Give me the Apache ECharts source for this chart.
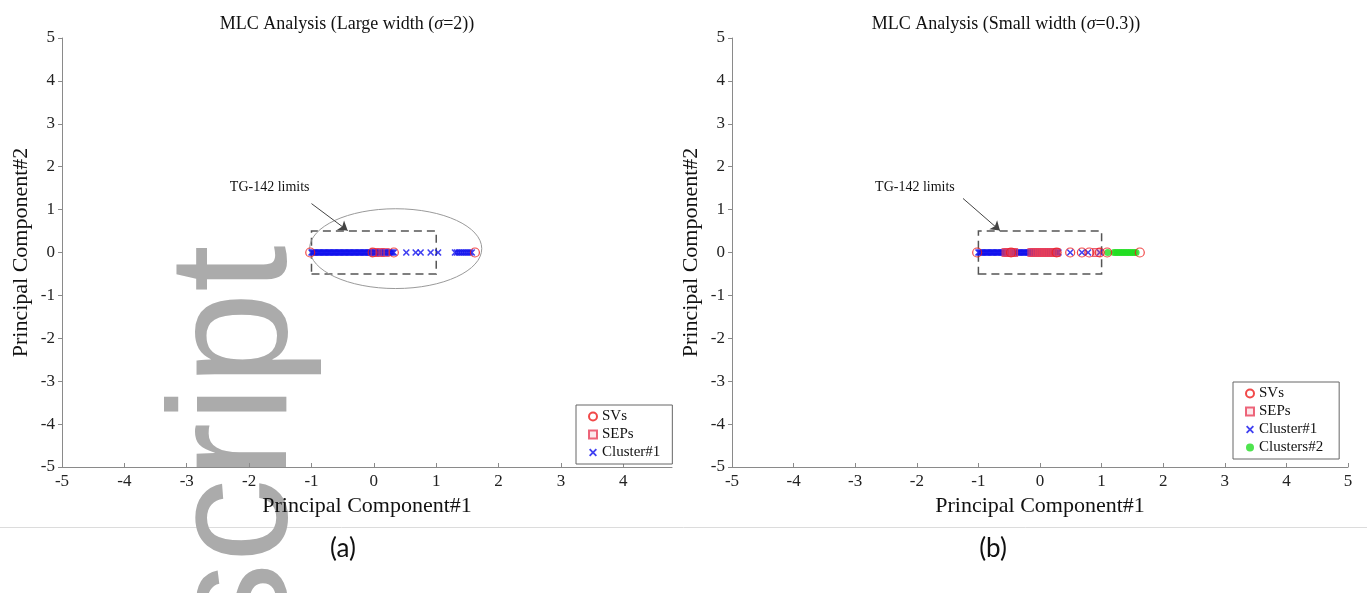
<!DOCTYPE html>
<html><head><meta charset="utf-8">
<script src="https://cdn.jsdelivr.net/npm/echarts@6/dist/echarts.min.js"></script>
<style>html,body{margin:0;padding:0;background:#fff}#c{width:1367px;height:593px}</style>
</head><body><div id="c"></div>
<script>
// ---- tick labels ----
const yTicks = [-5, -4, -3, -2, -1, 0, 1, 2, 3, 4, 5];
const xTicksA = [-5, -4, -3, -2, -1, 0, 1, 2, 3, 4];
const xTicksB = [-5, -4, -3, -2, -1, 0, 1, 2, 3, 4, 5];
const xRangeA = [-5, 4.78];
const xRangeB = [-5, 5];
const yRange = [-5, 5];

// ---- texts ----
const titleA = ['MLC Analysis (Large width (', 'σ', '=2))'];
const titleB = ['MLC Analysis (Small width (', 'σ', '=0.3))'];
const xName = 'Principal Component#1';
const yName = 'Principal Component#2';
const annotText = 'TG-142 limits';
const panelLabels = ['(a)', '(b)'];
const legendA = ['SVs', 'SEPs', 'Cluster#1'];
const legendB = ['SVs', 'SEPs', 'Cluster#1', 'Clusters#2'];

// ---- TG-142 limit box (PC1, PC2) ----
const limitPC1 = [-1, 1];
const limitPC2 = [-0.5, 0.5];

// ---- annotation positions (data units) ----
const annotPosA = [-1.67, 1.52];
const arrowA = [[-1.0, 1.14], [-0.42, 0.51]];
const annotPosB = [-2.03, 1.52];
const arrowB = [[-1.25, 1.26], [-0.65, 0.51]];

// ---- ellipse (a): center and radii ----
const ellipseCenterA = [0.35, 0.09];
const ellipseRadiiA = [1.38, 0.93];

// ---- panel (a) data: [PC1, PC2] ----
const aCluster1 = [[-1.00,0],[-0.98,0],[-0.96,0],[-0.94,0],[-0.92,0],[-0.90,0],[-0.88,0],[-0.86,0],[-0.84,0],[-0.82,0],
  [-0.80,0],[-0.78,0],[-0.76,0],[-0.74,0],[-0.72,0],[-0.70,0],[-0.68,0],[-0.66,0],[-0.64,0],[-0.62,0],
  [-0.60,0],[-0.58,0],[-0.56,0],[-0.54,0],[-0.52,0],[-0.50,0],[-0.48,0],[-0.46,0],[-0.44,0],[-0.42,0],
  [-0.40,0],[-0.38,0],[-0.36,0],[-0.34,0],[-0.32,0],[-0.30,0],[-0.28,0],[-0.26,0],[-0.24,0],[-0.22,0],
  [-0.20,0],[-0.18,0],[-0.16,0],[-0.14,0],[-0.12,0],[-0.10,0],[-0.08,0],[-0.06,0],[-0.04,0],[-0.02,0],
  [0.00,0],[0.02,0],[0.04,0],[0.06,0],[0.08,0],[0.10,0],[0.12,0],[0.14,0],[0.16,0],[0.18,0],
  [0.20,0],[0.22,0],[0.24,0],[0.26,0],[0.28,0],[0.30,0],[0.32,0],
  [0.52,0],[0.67,0],[0.75,0],[0.91,0],[1.03,0],
  [1.30,0],[1.33,0],[1.36,0],[1.39,0],[1.42,0],[1.45,0],[1.48,0],[1.51,0],[1.54,0],[1.57,0]];
const aSVs = [[-1.02,0],[-0.02,0],[0.32,0],[1.62,0]];
const aSEPs = [[0.02,0],[0.10,0],[0.18,0]];

// ---- panel (b) data: [PC1, PC2] ----
const bCluster1 = [[-1.00,0],[-0.98,0],[-0.96,0],[-0.94,0],[-0.92,0],[-0.90,0],[-0.88,0],[-0.86,0],[-0.84,0],[-0.82,0],
  [-0.80,0],[-0.78,0],[-0.76,0],[-0.74,0],[-0.72,0],[-0.70,0],[-0.68,0],[-0.66,0],[-0.64,0],[-0.62,0],
  [-0.60,0],[-0.58,0],[-0.56,0],[-0.54,0],[-0.52,0],[-0.50,0],[-0.48,0],[-0.46,0],[-0.44,0],[-0.42,0],
  [-0.40,0],[-0.38,0],[-0.36,0],[-0.34,0],[-0.32,0],[-0.30,0],[-0.28,0],[-0.26,0],[-0.24,0],[-0.22,0],
  [-0.20,0],[-0.18,0],[-0.16,0],[-0.14,0],[-0.12,0],[-0.10,0],[-0.08,0],[-0.06,0],[-0.04,0],[-0.02,0],
  [0.00,0],[0.02,0],[0.04,0],[0.06,0],[0.08,0],[0.10,0],[0.12,0],[0.14,0],[0.16,0],[0.18,0],
  [0.20,0],[0.22,0],[0.24,0],[0.26,0],[0.28,0],[0.30,0],
  [0.49,0],[0.68,0],[0.78,0],[0.97,0]];
const bSEPs = [[-0.55,0],[-0.52,0],[-0.49,0],[-0.46,0],[-0.43,0],[-0.13,0],[-0.10,0],[-0.07,0],[-0.04,0],[-0.01,0],
  [0.02,0],[0.05,0],[0.08,0],[0.11,0],[0.14,0],[0.17,0],[0.20,0],[0.23,0],[0.26,0],[0.92,0]];
const bSVs = [[-1.02,0],[-0.47,0],[0.27,0],[0.49,0],[0.68,0],[0.80,0],[0.97,0],[1.09,0],[1.62,0]];
const bClusters2 = [[1.10,0],[1.20,0],[1.23,0],[1.26,0],[1.29,0],[1.32,0],[1.35,0],[1.38,0],[1.41,0],[1.44,0],
  [1.47,0],[1.50,0],[1.53,0],[1.56,0]];

// ---- styles ----
const SERIF = '"Liberation Serif", "Times New Roman", serif';
const AXIS_COLOR = '#8a8a8a';
const XMARK = 'path://M0,1.6L1.6,0L5,3.4L8.4,0L10,1.6L6.6,5L10,8.4L8.4,10L5,6.6L1.6,10L0,8.4L3.4,5Z';

function xAxisCfg(gi, range, ticks) {
  return {
    type: 'value', gridIndex: gi, min: range[0], max: range[1], interval: 1,
    name: xName, nameLocation: 'middle', nameGap: 28,
    nameTextStyle: { fontFamily: SERIF, fontSize: 22, color: '#111' },
    axisLine: { show: true, onZero: false, lineStyle: { color: AXIS_COLOR, width: 1 } },
    axisTick: { show: true, inside: true, length: 4, customValues: ticks, lineStyle: { color: AXIS_COLOR } },
    axisLabel: { customValues: ticks, fontFamily: SERIF, fontSize: 17, color: '#222', margin: 6,
      formatter: v => (Number.isInteger(v) ? String(v) : '') },
    splitLine: { show: false }
  };
}
function yAxisCfg(gi) {
  return {
    type: 'value', gridIndex: gi, min: yRange[0], max: yRange[1], interval: 1,
    name: yName, nameLocation: 'middle', nameGap: 30, nameRotate: 90,
    nameTextStyle: { fontFamily: SERIF, fontSize: 22, color: '#111' },
    axisLine: { show: true, onZero: false, lineStyle: { color: AXIS_COLOR, width: 1 } },
    axisTick: { show: true, inside: false, length: 4, customValues: yTicks, lineStyle: { color: AXIS_COLOR } },
    axisLabel: { customValues: yTicks, fontFamily: SERIF, fontSize: 17, color: '#222', margin: 7 },
    splitLine: { show: false }
  };
}

function svSeries(idx, data) {
  return { name: 'SVs', type: 'scatter', xAxisIndex: idx, yAxisIndex: idx, data: data, z: 5,
    symbol: 'circle', symbolSize: 9,
    itemStyle: { color: 'rgba(255,255,255,0)', borderColor: '#ee1c1c', borderWidth: 1.2 } };
}
function sepSeries(idx, data, fill) {
  return { name: 'SEPs', type: 'scatter', xAxisIndex: idx, yAxisIndex: idx, data: data, z: 4,
    symbol: 'rect', symbolSize: 8,
    itemStyle: { color: fill, borderColor: '#e8405a', borderWidth: 1.2 } };
}
function cl1Series(idx, data) {
  return { name: 'Cluster#1', type: 'scatter', xAxisIndex: idx, yAxisIndex: idx, data: data, z: 3,
    symbol: XMARK, symbolSize: 7, itemStyle: { color: '#1010ee' } };
}
function limitsSeries(idx, annotPos, arrow) {
  return {
    name: 'limits' + idx, type: 'custom', xAxisIndex: idx, yAxisIndex: idx, z: 2, silent: true, clip: false,
    data: [annotPos],
    renderItem: function (params, api) {
      const p = api.coord([api.value(0), api.value(1)]);
      return { type: 'text', x: p[0], y: p[1],
        style: { text: annotText, fontFamily: 'Liberation Serif', fontSize: 14, fill: '#111', align: 'center', verticalAlign: 'middle' } };
    },
    markArea: { silent: true,
      itemStyle: { color: 'rgba(0,0,0,0)', borderColor: '#555', borderWidth: 1.5, borderType: [8, 5] },
      data: [[{ coord: [limitPC1[0], limitPC2[0]] }, { coord: [limitPC1[1], limitPC2[1]] }]] },
    markLine: { silent: true, symbol: ['none', 'arrow'], symbolSize: 9,
      lineStyle: { color: '#444', width: 1, type: 'solid' }, label: { show: false },
      data: [[{ coord: arrow[0], symbol: 'none' }, { coord: arrow[1], symbol: 'arrow', symbolSize: 9 }]] }
  };
}

const titleRich = {
  a: { fontFamily: SERIF, fontSize: 18, fontWeight: 'normal', color: '#111' },
  i: { fontFamily: SERIF, fontSize: 18, fontWeight: 'normal', fontStyle: 'italic', color: '#111' }
};

const chart = echarts.init(document.getElementById('c'), null, { renderer: 'canvas' });
const option = {
  animation: false,
  backgroundColor: '#ffffff',
  title: [
    { text: '{a|' + titleA[0] + '}{i|' + titleA[1] + '}{a|' + titleA[2] + '}', left: 342, top: 10, textAlign: 'center',
      textStyle: { fontWeight: 'normal', fontFamily: SERIF, fontSize: 18, rich: titleRich } },
    { text: '{a|' + titleB[0] + '}{i|' + titleB[1] + '}{a|' + titleB[2] + '}', left: 1001, top: 10, textAlign: 'center',
      textStyle: { fontWeight: 'normal', fontFamily: SERIF, fontSize: 18, rich: titleRich } }
  ],
  grid: [
    { left: 62, top: 38, width: 610, height: 429, containLabel: false },
    { left: 732, top: 38, width: 616, height: 429, containLabel: false }
  ],
  xAxis: [xAxisCfg(0, xRangeA, xTicksA), xAxisCfg(1, xRangeB, xTicksB)],
  yAxis: [yAxisCfg(0), yAxisCfg(1)],
  legend: [
    { data: legendA, orient: 'vertical', left: 576, top: 405, itemWidth: 8, itemHeight: 8, itemGap: 3,
      padding: [4, 12, 4, 12], borderColor: '#666', borderWidth: 1, backgroundColor: '#fff', selectedMode: false,
      textStyle: { fontFamily: SERIF, fontSize: 15, color: '#111' } },
    { data: legendB, orient: 'vertical', left: 1233, top: 382, itemWidth: 8, itemHeight: 8, itemGap: 3,
      padding: [4, 16, 4, 12], borderColor: '#666', borderWidth: 1, backgroundColor: '#fff', selectedMode: false,
      textStyle: { fontFamily: SERIF, fontSize: 15, color: '#111' } }
  ],
  graphic: [
    { type: 'text', z: -1, x: 240, y: 446, rotation: Math.PI / 2, silent: true,
      style: { text: 'script', fontFamily: '"Liberation Sans", Arial, sans-serif', fontSize: 168, fill: '#ababab', align: 'center', verticalAlign: 'middle' } },
    { type: 'line', z: -2, silent: true, shape: { x1: 0, y1: 527.5, x2: 1367, y2: 527.5 }, style: { stroke: '#dcdcdc', lineWidth: 1 } },
    { type: 'text', x: 343, y: 549, silent: true,
      style: { text: panelLabels[0], fontFamily: 'Lato, "Liberation Sans", sans-serif', fontSize: 26, fill: '#111', align: 'center', verticalAlign: 'middle' } },
    { type: 'text', x: 993, y: 549, silent: true,
      style: { text: panelLabels[1], fontFamily: 'Lato, "Liberation Sans", sans-serif', fontSize: 26, fill: '#111', align: 'center', verticalAlign: 'middle' } }
  ],
  series: [
    {
      name: 'ellipseA', type: 'custom', xAxisIndex: 0, yAxisIndex: 0, z: 1, silent: true, clip: false,
      data: [[ellipseCenterA[0], ellipseCenterA[1], ellipseRadiiA[0], ellipseRadiiA[1]]],
      encode: { x: 0, y: 1 },
      renderItem: function (params, api) {
        const c = api.coord([api.value(0), api.value(1)]);
        const s = api.size([api.value(2), api.value(3)]);
        return { type: 'ellipse', shape: { cx: c[0], cy: c[1], rx: s[0], ry: s[1] },
          style: { fill: 'none', stroke: '#9a9a9a', lineWidth: 1 } };
      }
    },
    limitsSeries(0, annotPosA, arrowA),
    limitsSeries(1, annotPosB, arrowB),
    cl1Series(0, aCluster1),
    sepSeries(0, aSEPs, 'rgba(230,60,90,0.15)'),
    svSeries(0, aSVs),
    cl1Series(1, bCluster1),
    { name: 'Clusters#2', type: 'scatter', xAxisIndex: 1, yAxisIndex: 1, data: bClusters2, z: 3,
      symbol: 'circle', symbolSize: 7, itemStyle: { color: '#22dd22' } },
    sepSeries(1, bSEPs, 'rgba(230,60,90,0.45)'),
    svSeries(1, bSVs)
  ]
};
chart.setOption(option);
</script>
</body></html>
